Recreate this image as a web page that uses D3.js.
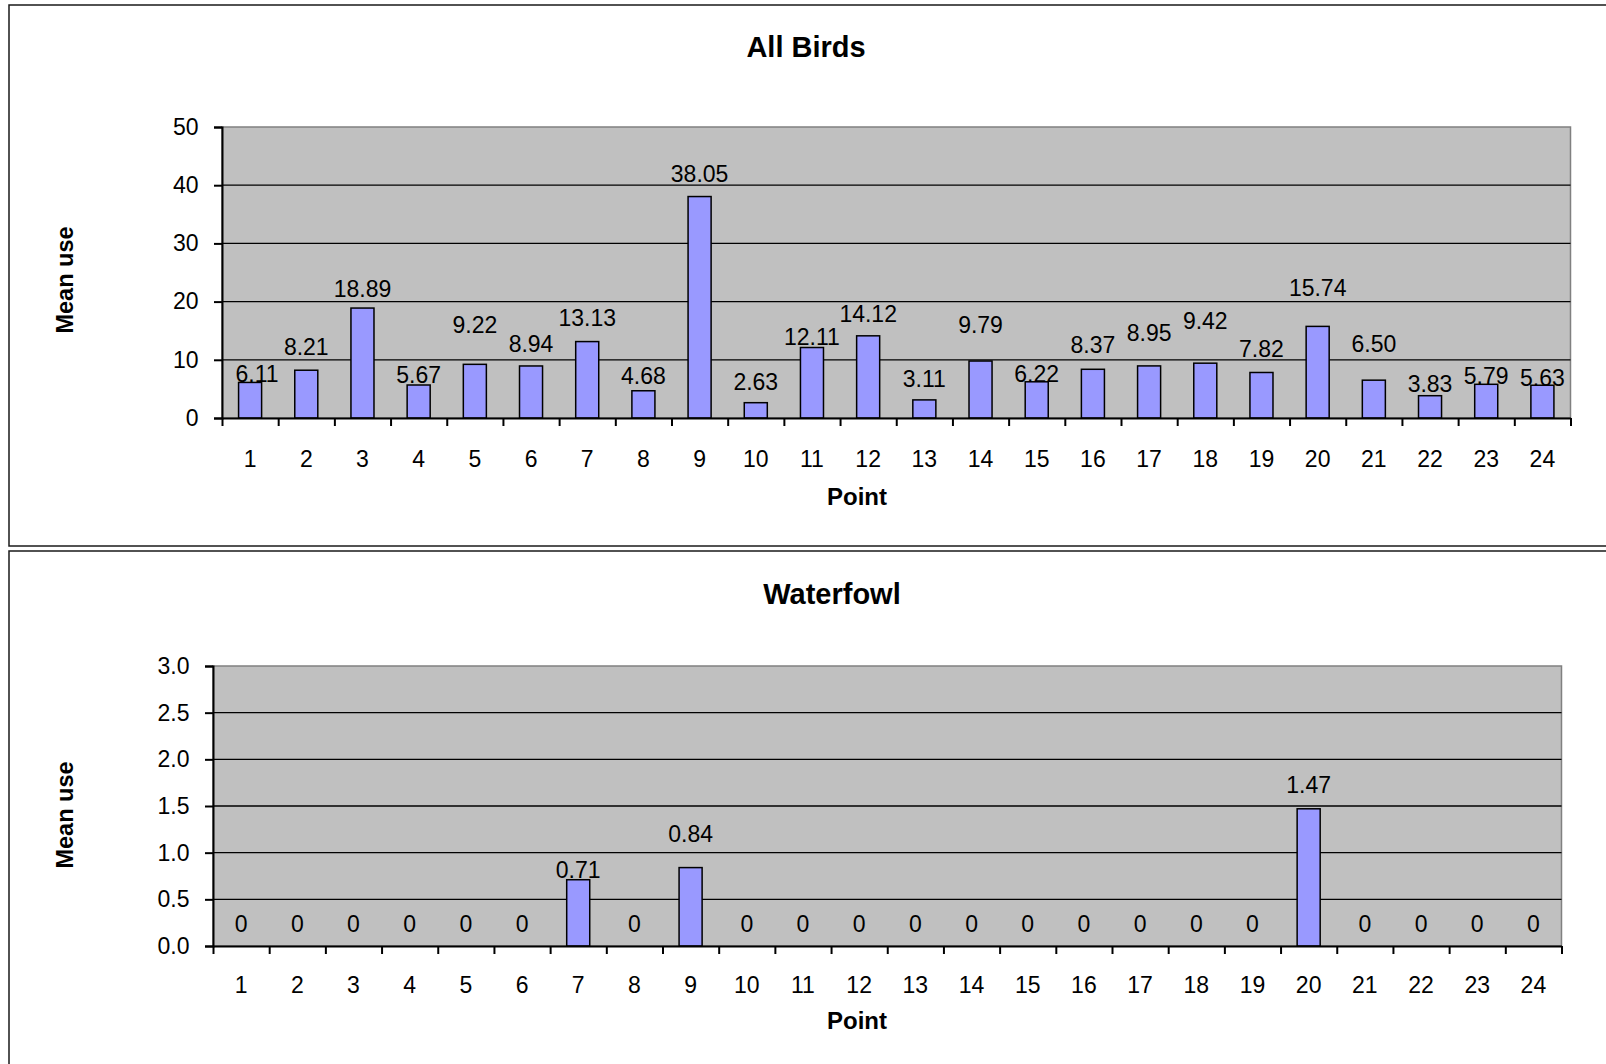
<!DOCTYPE html>
<html>
<head>
<meta charset="utf-8">
<script src="https://cdn.jsdelivr.net/npm/d3@7"></script>
<style>
  body { margin: 0; background: #fff; }
  text { font-family: "Liberation Sans", Arial, sans-serif; fill: #000; }
</style>
</head>
<body>
<script>
// categories and values
const points = ["1","2","3","4","5","6","7","8","9","10","11","12","13","14","15","16","17","18","19","20","21","22","23","24"];
const allBirds = [6.11, 8.21, 18.89, 5.67, 9.22, 8.94, 13.13, 4.68, 38.05, 2.63, 12.11, 14.12,
                  3.11, 9.79, 6.22, 8.37, 8.95, 9.42, 7.82, 15.74, 6.50, 3.83, 5.79, 5.63];
const waterfowl = [0, 0, 0, 0, 0, 0, 0.71, 0, 0.84, 0, 0, 0,
                   0, 0, 0, 0, 0, 0, 0, 1.47, 0, 0, 0, 0];
const allBirdsTicks = [0, 10, 20, 30, 40, 50];
const waterfowlTicks = [0, 0.5, 1.0, 1.5, 2.0, 2.5, 3.0];

// label nudges (px above bar top) - the labels in the original sit unevenly
const allBirdsLift = [0, 15, 11, 2, 31, 14, 16, 7, 15, 13, 3, 14, 13, 28, 0, 16, 25, 34, 15, 30, 28, 4, 0, -1];
const waterfowlLift = [14, 14, 14, 14, 14, 14, 1.5, 14, 25.5, 14, 14, 14, 14, 14, 14, 14, 14, 14, 14, 16, 14, 14, 14, 14];

const width = 1606;
const height = 1064;

const svg = d3.select("body")
  .append("svg")
  .attr("width", width)
  .attr("height", height);

// chart frames
svg.append("rect")
  .attr("x", 9).attr("y", 5)
  .attr("width", 1640).attr("height", 541)
  .attr("fill", "none").attr("stroke", "#1a1a1a").attr("stroke-width", 1.5);
svg.append("rect")
  .attr("x", 9).attr("y", 551)
  .attr("width", 1640).attr("height", 540)
  .attr("fill", "none").attr("stroke", "#1a1a1a").attr("stroke-width", 1.5);

function drawChart(opts) {
  const { title, titleX, titleY, values, ticks, lift, left, right, top, bottom, max,
          tickFmt, labelFmt, labelPad, yTitleY, xTitleY, firstLabelDx } = opts;

  const x = d3.scaleBand()
    .domain(points)
    .range([left, right])
    .paddingInner(0.59)
    .paddingOuter(0.295);

  const xEdge = d3.scaleLinear()
    .domain([0, points.length])
    .range([left, right]);

  const y = d3.scaleLinear()
    .domain([0, max])
    .range([bottom, top]);

  const g = svg.append("g");

  // plot area
  g.append("rect")
    .attr("x", left).attr("y", top)
    .attr("width", right - left).attr("height", bottom - top)
    .attr("fill", "#c0c0c0")
    .attr("stroke", "#808080")
    .attr("stroke-width", 1.5);

  // gridlines
  g.selectAll("line.grid")
    .data(ticks.filter(t => t > 0 && t < max))
    .enter()
    .append("line")
    .attr("class", "grid")
    .attr("x1", left).attr("x2", right)
    .attr("y1", d => y(d)).attr("y2", d => y(d))
    .attr("stroke", "#000")
    .attr("stroke-width", 1.3);

  // bars
  g.selectAll("rect.bar")
    .data(values)
    .enter()
    .append("rect")
    .attr("class", "bar")
    .attr("x", (d, i) => x(points[i]))
    .attr("y", d => y(d))
    .attr("width", x.bandwidth())
    .attr("height", d => bottom - y(d))
    .attr("fill", "#9999ff")
    .attr("stroke", "#000")
    .attr("stroke-width", 1.5);

  // y axis
  const yAxis = g.append("g")
    .attr("transform", `translate(${left},0)`)
    .call(d3.axisLeft(y).tickValues(ticks).tickFormat(tickFmt).tickSize(8).tickPadding(15.5));
  yAxis.select(".domain").attr("stroke", "#000").attr("stroke-width", 2);
  yAxis.selectAll(".tick line").attr("stroke", "#000").attr("stroke-width", 2);
  yAxis.selectAll("text").attr("font-size", 23).attr("font-family", null);

  // x axis: tick marks at the category edges
  const xTicks = g.append("g")
    .attr("transform", `translate(0,${bottom})`)
    .call(d3.axisBottom(xEdge).tickValues(d3.range(0, points.length + 1)).tickFormat("").tickSize(8).tickSizeOuter(0));
  xTicks.select(".domain").attr("stroke", "#000").attr("stroke-width", 2);
  xTicks.selectAll(".tick line").attr("stroke", "#000").attr("stroke-width", 2);

  // x axis: category labels
  const xLabels = g.append("g")
    .attr("transform", `translate(0,${bottom})`)
    .call(d3.axisBottom(x).tickSize(0).tickPadding(labelPad));
  xLabels.select(".domain").remove();
  xLabels.selectAll("text").attr("font-size", 23).attr("font-family", null);

  // data labels
  g.selectAll("text.value")
    .data(values)
    .enter()
    .append("text")
    .attr("class", "value")
    .attr("x", (d, i) => x(points[i]) + x.bandwidth() / 2 + (i === 0 ? firstLabelDx : 0))
    .attr("y", (d, i) => y(d) - lift[i])
    .attr("text-anchor", "middle")
    .attr("font-size", 23)
    .text(labelFmt);

  // titles
  svg.append("text")
    .attr("x", titleX).attr("y", titleY)
    .attr("text-anchor", "middle")
    .attr("font-size", 29)
    .attr("font-weight", "bold")
    .text(title);

  svg.append("text")
    .attr("x", 857).attr("y", xTitleY)
    .attr("text-anchor", "middle")
    .attr("font-size", 24)
    .attr("font-weight", "bold")
    .text("Point");

  svg.append("text")
    .attr("transform", `translate(73,${yTitleY}) rotate(-90)`)
    .attr("text-anchor", "middle")
    .attr("font-size", 23.5)
    .attr("font-weight", "bold")
    .text("Mean use");
}

drawChart({
  title: "All Birds", titleX: 806, titleY: 57,
  values: allBirds, ticks: allBirdsTicks, lift: allBirdsLift,
  left: 222, right: 1570.5, top: 127, bottom: 418, max: 50,
  tickFmt: d3.format("d"),
  labelFmt: d3.format(".2f"),
  labelPad: 33, firstLabelDx: 7,
  yTitleY: 280, xTitleY: 505
});

drawChart({
  title: "Waterfowl", titleX: 832, titleY: 604,
  values: waterfowl, ticks: waterfowlTicks, lift: waterfowlLift,
  left: 213, right: 1561.5, top: 666, bottom: 946, max: 3,
  tickFmt: d3.format(".1f"),
  labelFmt: d => d === 0 ? "0" : d3.format(".2f")(d),
  labelPad: 31, firstLabelDx: 0,
  yTitleY: 815, xTitleY: 1029
});
</script>
</body>
</html>
